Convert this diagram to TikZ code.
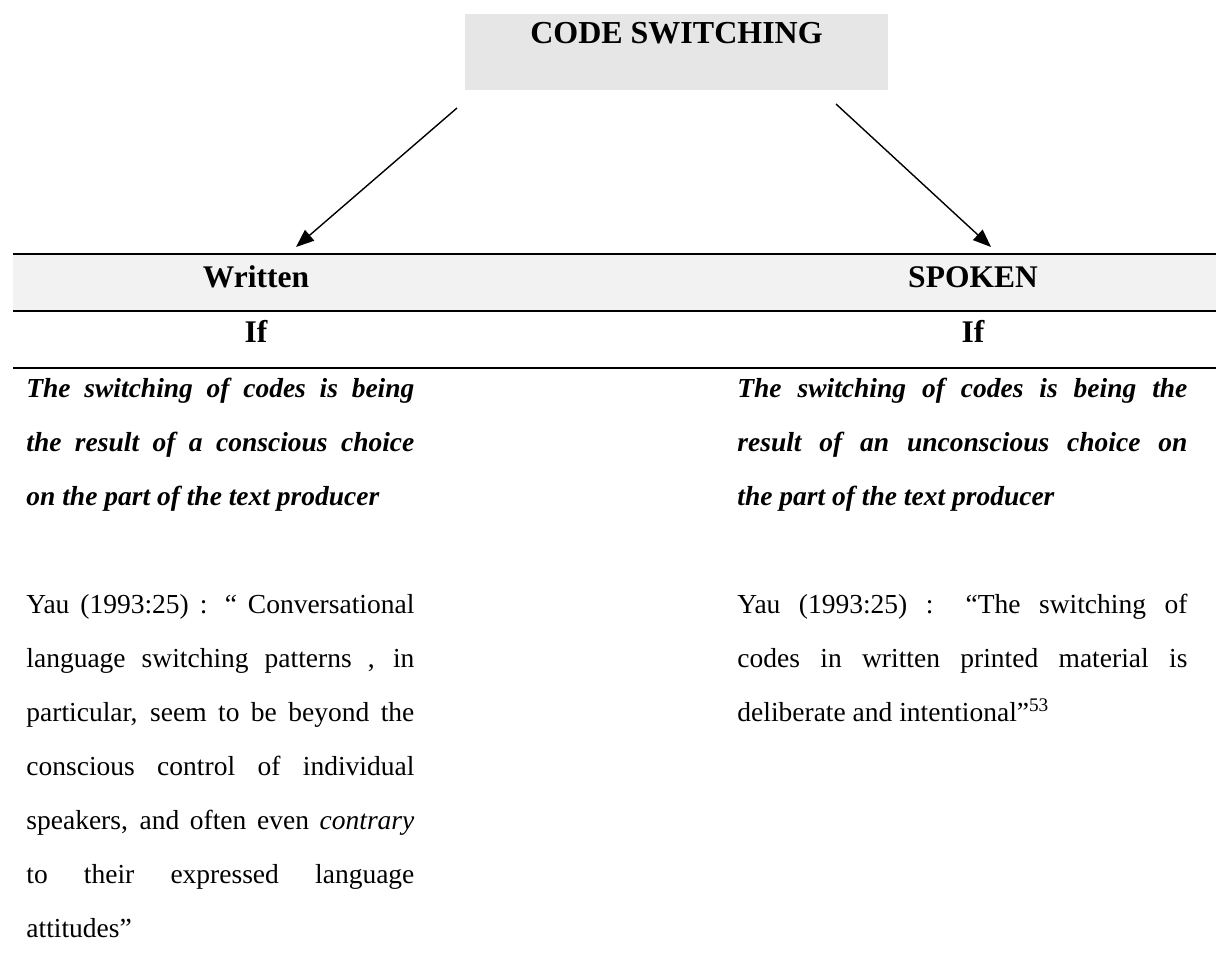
\documentclass[tikz,border=0pt]{standalone}
\usepackage{fontspec}
\setmainfont{Liberation Serif}
\usepackage{tikz}
\usetikzlibrary{arrows.meta, positioning}
\definecolor{titlegray}{HTML}{E6E6E6}
\definecolor{bandgray}{HTML}{F2F2F2}
\tikzset{
    titlebox/.style={fill=titlegray, minimum width=211.5pt, inner xsep=0pt, inner ysep=3pt,
                text height=11.5pt, text depth=20.5pt, font=\fontsize{16}{19}\selectfont\bfseries},
    headtxt/.style={anchor=base, inner sep=0pt, font=\fontsize{15.75}{18}\selectfont\bfseries},
    coltxt/.style={anchor=north west, inner sep=0pt, align=justify, font=\fontsize{13.75}{27}\selectfont},
    leadtxt/.style={coltxt, font=\fontsize{13.75}{27}\selectfont\bfseries\itshape},
    rule/.style={line width=1.2pt},
    arr/.style={-{Triangle[length=9pt, width=7pt]}, line width=0.7pt}
}

\begin{document}
\begin{tikzpicture}[x=0.5pt, y=-0.5pt]
    \useasboundingbox (0,0) rectangle (1216,970);
    \node[titlebox] (title) at (676.5,52) {CODE SWITCHING};
    % header band of the table
    \fill[bandgray] (13,254) rectangle (1216,311);
    \draw[rule] (13,254) -- (1216,254);
    \draw[rule] (13,311) -- (1216,311);
    \draw[rule] (13,368) -- (1216,368);
    \node[headtxt] (written) at (256,287) {Written};
    \node[headtxt] (spoken) at (973,287) {SPOKEN};
    \node[headtxt] (ifw) at (256,342) {If};
    \node[headtxt] (ifs) at (973,342) {If};
    % arrows from the title
    \coordinate (wfrom) at (457,108);
    \coordinate (wto) at (296,247);
    \coordinate (sfrom) at (836,104);
    \coordinate (sto) at (991,247);
    \draw[arr] (wfrom) -- (wto);
    \draw[arr] (sfrom) -- (sto);
    % left column
    \node[leadtxt, text width=194pt] (wlead) at (26,378)
        {The switching of codes is being\linebreak the result of a conscious choice\linebreak on the part of the text producer};
    \node[coltxt, text width=194pt] (wquote) at (26,594)
        {Yau (1993:25) : “ Conversational\linebreak language switching patterns , in\linebreak particular, seem to be beyond the\linebreak
         conscious control of individual\linebreak speakers, and often even \textit{contrary}\linebreak to their expressed language\linebreak attitudes”};
    % right column
    \node[leadtxt, text width=225pt] (slead) at (737,378)
        {The switching of codes is being the\linebreak result of an unconscious choice on\linebreak the part of the text producer};
    \node[coltxt, text width=225pt] (squote) at (737,594)
        {Yau (1993:25) : “The switching of\linebreak codes in written printed material is\linebreak deliberate and intentional”\textsuperscript{53}};
\end{tikzpicture}
\end{document}
